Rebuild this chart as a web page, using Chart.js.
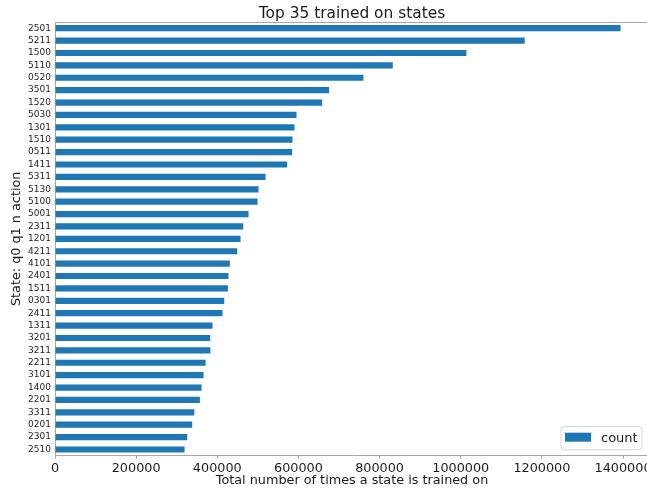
<!DOCTYPE html>
<html>
<head>
<meta charset="utf-8">
<script src="https://cdn.jsdelivr.net/npm/chart.js@4.4.1/dist/chart.umd.min.js"></script>
<style>
html,body{margin:0;padding:0;background:#fff;overflow:hidden;}
#wrap{width:650px;height:488px;}
</style>
</head>
<body>
<div id="wrap"><canvas id="c" width="650" height="488"></canvas></div>
<script>
const states = ["2501","5211","1500","5110","0520","3501","1520","5030","1301","1510","0511","1411","5311","5130","5100","5001","2311","1201","4211","4101","2401","1511","0301","2411","1311","3201","3211","2211","3101","1400","2201","3311","0201","2301","2510"];
const counts = [1394000,1157600,1014000,832500,760300,675600,658400,595300,590300,585400,584500,572200,518900,501700,499200,477000,463900,457300,449100,431000,427700,426100,417100,412900,388300,382600,383000,371100,366200,361300,357100,343200,338200,325900,319400];
const xTicks = [0,200000,400000,600000,800000,1000000,1200000,1400000];
const seriesName = "count";
const titleText = "Top 35 trained on states";
const xTitle = "Total number of times a state is trained on";
const yTitle = "State: q0 q1 n action";

const FONT = "'DejaVu Sans', sans-serif";
const SPINE = "#a8a8a8";
const BAR = "#1f77b4";

const decor = {
  id: 'decor',
  afterDraw(chart) {
    const ctx = chart.ctx;
    const a = chart.chartArea;
    ctx.save();
    ctx.strokeStyle = SPINE;
    ctx.lineWidth = 1;
    ctx.beginPath();
    ctx.moveTo(a.left, a.top + 0.5);
    ctx.lineTo(a.right, a.top + 0.5);
    ctx.stroke();
    // title
    ctx.fillStyle = "#1a1a1a";
    ctx.font = "15.4px " + FONT;
    ctx.textAlign = "center";
    ctx.textBaseline = "alphabetic";
    ctx.fillText(titleText, (a.left + a.right) / 2, a.top - 4);
    // legend
    const bw = 81, bh = 23;
    const bx = a.right - 7 - bw, by = a.bottom - 6 - bh;
    ctx.fillStyle = "rgba(255,255,255,0.8)";
    ctx.strokeStyle = "#d6d6d6";
    ctx.beginPath();
    const r = 3;
    ctx.moveTo(bx + r, by);
    ctx.lineTo(bx + bw - r, by);
    ctx.arcTo(bx + bw, by, bx + bw, by + r, r);
    ctx.lineTo(bx + bw, by + bh - r);
    ctx.arcTo(bx + bw, by + bh, bx + bw - r, by + bh, r);
    ctx.lineTo(bx + r, by + bh);
    ctx.arcTo(bx, by + bh, bx, by + bh - r, r);
    ctx.lineTo(bx, by + r);
    ctx.arcTo(bx, by, bx + r, by, r);
    ctx.closePath();
    ctx.fill();
    ctx.stroke();
    ctx.fillStyle = chart.data.datasets[0].backgroundColor;
    ctx.fillRect(bx + 4, by + 6, 26, 9);
    ctx.fillStyle = "#1a1a1a";
    ctx.font = "13px " + FONT;
    ctx.textAlign = "left";
    ctx.textBaseline = "middle";
    ctx.fillText(chart.data.datasets[0].label, bx + 40, by + bh / 2);
    ctx.restore();
  }
};

new Chart(document.getElementById('c'), {
  type: 'bar',
  data: {
    labels: states,
    datasets: [{
      label: seriesName,
      data: counts,
      backgroundColor: BAR,
      borderWidth: 0,
      barPercentage: 0.5,
      categoryPercentage: 1.0
    }]
  },
  options: {
    indexAxis: 'y',
    responsive: false,
    animation: false,
    devicePixelRatio: 1,
    layout: { padding: { top: 22, right: 1, left: 0, bottom: 0 } },
    plugins: {
      legend: { display: false },
      title: { display: false },
      tooltip: { enabled: false }
    },
    scales: {
      x: {
        type: 'linear',
        min: 0,
        max: 1464000,
        afterBuildTicks(scale) { scale.ticks = xTicks.map(v => ({ value: v })); },
        afterFit(scale) { scale.height = 32.3; scale.paddingLeft = 0; scale.paddingRight = 0; },
        grid: { display: true, drawOnChartArea: false, drawTicks: true, tickLength: 3, color: SPINE },
        border: { display: true, color: SPINE },
        ticks: {
          padding: 2,
          maxRotation: 0,
          autoSkip: false,
          color: "#1a1a1a",
          font: { family: FONT, size: 12.8 },
          callback: v => String(v)
        },
        title: {
          display: true,
          text: xTitle,
          color: "#1a1a1a",
          font: { family: FONT, size: 12.8 },
          padding: { top: 0, bottom: 0 }
        }
      },
      y: {
        offset: true,
        afterFit(scale) { scale.width = 55; },
        grid: { display: false, drawTicks: false, tickLength: 0 },
        border: { display: true, color: SPINE },
        ticks: {
          padding: 4,
          autoSkip: false,
          color: "#262626",
          font: { family: FONT, size: 9 }
        },
        title: {
          display: true,
          text: yTitle,
          color: "#1a1a1a",
          font: { family: FONT, size: 12.8 },
          padding: { top: 9, bottom: 0 }
        }
      }
    }
  },
  plugins: [decor]
});
</script>
</body>
</html>
